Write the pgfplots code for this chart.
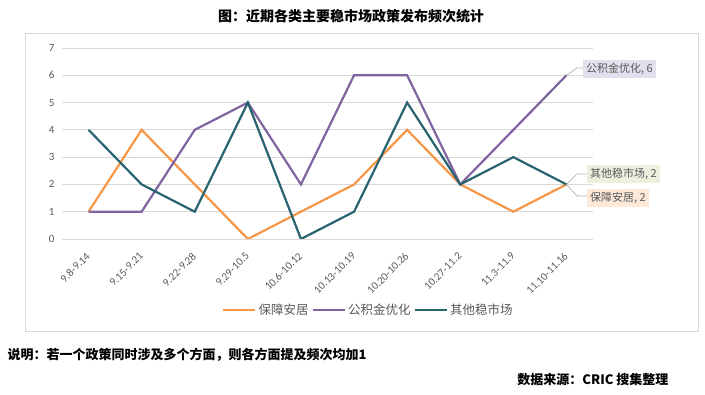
\documentclass[border=0pt]{standalone}
\usepackage{pgfplots}
\pgfplotsset{compat=1.18}
\usepackage{fontspec}
\setmainfont{Carlito}
\newfontfamily\cjk{Noto Sans CJK SC}
\definecolor{cOrange}{HTML}{F79646}
\definecolor{cPurple}{HTML}{8064A2}
\definecolor{cTeal}{HTML}{28646F}
\definecolor{cGrid}{HTML}{D9D9D9}
\definecolor{cText}{HTML}{595959}
\definecolor{lPurple}{HTML}{E4DFEC}
\definecolor{lGreen}{HTML}{EBF1DE}
\definecolor{lOrange}{HTML}{FDE9D9}
\begin{document}
\begin{tikzpicture}
\path[use as bounding box] (0pt,0pt) rectangle (705pt,395pt);
\draw[cGrid, line width=0.8pt] (25pt,64pt) rectangle (698pt,362pt);
\node[font=\cjk\bfseries\fontsize{14}{16}\selectfont] at (351pt,379pt) {图：近期各类主要稳市场政策发布频次统计};
\begin{axis}[
  at={(62pt,156pt)}, anchor=south west,
  scale only axis, width=531pt, height=191pt,
  xmin=-0.5, xmax=9.5, ymin=0, ymax=7,
  axis line style={draw=none},
  ytick={0,...,7},
  xtick={0,...,9},
  xticklabels={9.8-9.14,9.15-9.21,9.22-9.28,9.29-10.5,10.6-10.12,10.13-10.19,10.20-10.26,10.27-11.2,11.3-11.9,11.10-11.16},
  major tick length=0pt,
  ymajorgrids, grid style={cGrid, line width=0.8pt},
  tick label style={text=cText},
  yticklabel style={font=\fontsize{11}{13}\selectfont, xshift=-4pt},
  xticklabel style={font=\fontsize{11}{13}\selectfont, anchor=east, xshift=2pt, yshift=-13pt, rotate=45},
  /pgf/number format/assume math mode=true,
  legend style={at={(0.577,-0.372)}, anchor=center, draw=none, fill=none,
    font=\cjk\fontsize{12.5}{14}\selectfont, text=cText, legend columns=3,
    /tikz/every even column/.append style={column sep=1pt}},
  legend image code/.code={\draw[#1, line width=2.5pt] (0pt,0pt) -- (32pt,0pt);},
  every axis plot/.append style={line width=2.2pt, mark=none},
]
\addplot[cOrange] coordinates {(0,1)(1,4)(2,2)(3,0)(4,1)(5,2)(6,4)(7,2)(8,1)(9,2)};
\addlegendentry{保障安居}
\addplot[cPurple] coordinates {(0,1)(1,1)(2,4)(3,5)(4,2)(5,6)(6,6)(7,2)(8,4)(9,6)};
\addlegendentry{公积金优化}
\addplot[cTeal] coordinates {(0,4)(1,2)(2,1)(3,5)(4,0)(5,1)(6,5)(7,2)(8,3)(9,2)};
\addlegendentry{其他稳市场}
\coordinate (pP) at (axis cs:9,6);
\coordinate (pT) at (axis cs:9,2);
\end{axis}
\draw[gray!60, line width=0.7pt] (pP) -- (577pt,327pt) -- (584pt,327pt);
\draw[gray!60, line width=0.7pt] (pT) -- (577pt,221pt) -- (588pt,221pt);
\draw[gray!60, line width=0.7pt] (pT) -- (577pt,199pt) -- (588pt,199pt);
\node[fill=lPurple, text=cText, font=\cjk\fontsize{11}{13}\selectfont, inner xsep=3pt, inner ysep=3pt, anchor=west] at (583pt,326pt) {公积金优化, 6};
\node[fill=lGreen, text=cText, font=\cjk\fontsize{11}{13}\selectfont, inner xsep=3pt, inner ysep=3pt, anchor=west] at (587pt,221pt) {其他稳市场, 2};
\node[fill=lOrange, text=cText, font=\cjk\fontsize{11}{13}\selectfont, inner xsep=3pt, inner ysep=3pt, anchor=west] at (587pt,197pt) {保障安居, 2};
\node[anchor=west, font=\cjk\bfseries\fontsize{13}{15}\selectfont] at (4pt,40pt) {说明：若一个政策同时涉及多个方面，则各方面提及频次均加1};
\node[anchor=east, font=\cjk\bfseries\fontsize{13}{15}\selectfont] at (672pt,15pt) {数据来源：CRIC 搜集整理};
\end{tikzpicture}
\end{document}
